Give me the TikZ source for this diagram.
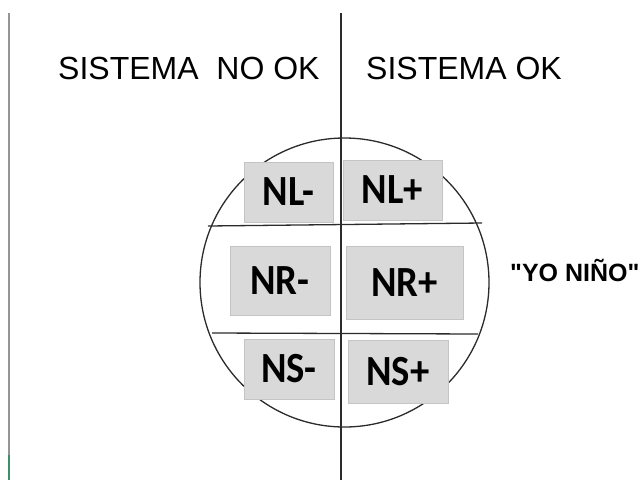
\documentclass[tikz,border=0pt]{standalone}
\usepackage{fontspec}
\setmainfont[Ligatures=TeXOff]{Liberation Sans}
\newfontfamily\padfont[FakeStretch=0.9]{Carlito}
\usepackage{tikz}

\definecolor{padgray}{HTML}{D9D9D9}
\definecolor{padedge}{HTML}{C4C4C4}
\definecolor{rulegray}{HTML}{959595}
\definecolor{rulegreen}{HTML}{3E8F68}
\definecolor{ink}{HTML}{2B2B2B}

\begin{document}
\begin{tikzpicture}[x=1pt,y=-1pt,
	pad/.style={rectangle,draw=padedge,fill=padgray,line width=1pt,inner sep=0pt,font=\padfont\bfseries\fontsize{43}{43}\selectfont},
	heading/.style={anchor=base west,inner sep=0pt,font=\fontsize{32}{32}\selectfont},
	chord/.style={draw=ink,line width=1.3pt}]
	
	\useasboundingbox (0,0) rectangle (643,480);
	
	% side rule and middle divider
	\coordinate (sidetop) at (8.5,13);
	\coordinate (sidemid) at (8.5,455);
	\coordinate (sidebot) at (8.5,480);
	\draw[rulegray,line width=2pt] (sidetop) -- (sidemid);
	\draw[rulegreen,line width=2pt] (sidemid) -- (sidebot);
	\coordinate (divtop) at (341,13);
	\coordinate (divbot) at (341,480);
	\draw[ink,line width=2pt] (divtop) -- (divbot);
	
	% titles
	\node[heading] (nook) at (58,79) {SISTEMA\ \ NO OK};
	\node[heading] (ok) at (366,79) {SISTEMA OK};
	
	% the dial
	\node[circle,draw=ink,line width=1.3pt,minimum size=289pt,inner sep=0pt] (dial) at (344.5,282.5) {};
	\coordinate (upl) at (208,226);
	\coordinate (upr) at (482,223);
	\coordinate (lowl) at (212,333);
	\coordinate (lowr) at (478,334);
	\draw[chord] (upl) -- (upr);
	\draw[chord] (lowl) -- (lowr);
	
	% pads
	\node[pad,minimum width=89pt,minimum height=60pt] (nlminus) at (288.5,192) {NL-};
	\node[pad,minimum width=99pt,minimum height=60pt] (nlplus) at (392.5,190) {NL+};
	\node[pad,minimum width=100pt,minimum height=69pt] (nrminus) at (280,280.5) {NR-};
	\node[pad,minimum width=117pt,minimum height=73pt] (nrplus) at (404.5,282.5) {NR+\hspace{12pt}};
	\node[pad,minimum width=90pt,minimum height=60pt] (nsminus) at (289,369) {NS-};
	\node[pad,minimum width=100pt,minimum height=63pt] (nsplus) at (398,371.5) {NS+};
	
	\node[anchor=base west,inner sep=0pt,font=\bfseries\fontsize{25}{25}\selectfont] (yonino) at (510,281) {"YO NIÑO"};
	
\end{tikzpicture}
\end{document}
